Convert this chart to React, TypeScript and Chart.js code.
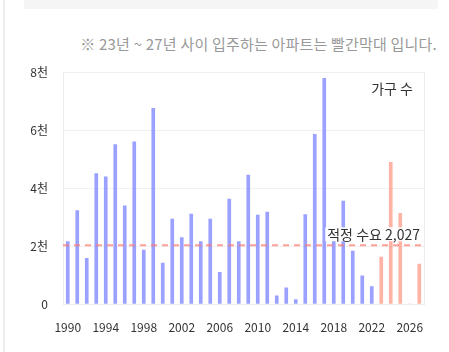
import React, { useEffect, useRef } from "react";
import { Chart, registerables } from "chart.js";

Chart.register(...registerables);

const years: string[] = [
  "1990","1991","1992","1993","1994","1995","1996","1997","1998","1999",
  "2000","2001","2002","2003","2004","2005","2006","2007","2008","2009",
  "2010","2011","2012","2013","2014","2015","2016","2017","2018","2019",
  "2020","2021","2022","2023","2024","2025","2026","2027",
];
const households: number[] = [
  2150, 3220, 1580, 4500, 4390, 5500, 3390, 5600, 1860, 6750,
  1410, 2930, 2290, 3100, 2150, 2930, 1090, 3620, 2150, 4450,
  3070, 3170, 280, 560, 150, 3090, 5860, 7790, 2500, 3550,
  1830, 970, 600, 1620, 4890, 3130, 0, 1380,
];
const futureStart = "2023";
const demand = 2027;
const demandLabel = "적정 수요 2,027";
const seriesLabel = "가구 수";
const caption = "※ 23년 ~ 27년 사이 입주하는 아파트는 빨간막대 입니다.";

const FONT = "'Noto Sans CJK KR', 'Noto Sans', sans-serif";
const BLUE = "rgba(125,135,255,0.78)";
const RED = "rgba(255,150,130,0.72)";

const overlayPlugin = {
  id: "overlay",
  afterDatasetsDraw(chart: any) {
    const { ctx, chartArea, scales } = chart;
    const y = scales.y.getPixelForValue(demand);
    ctx.save();
    ctx.strokeStyle = "#ececec";
    ctx.lineWidth = 1;
    ctx.beginPath();
    ctx.moveTo(chartArea.right + 0.5, chartArea.top);
    ctx.lineTo(chartArea.right + 0.5, chartArea.bottom);
    ctx.stroke();
    ctx.strokeStyle = "rgba(255,120,110,0.7)";
    ctx.lineWidth = 2;
    ctx.setLineDash([6, 5]);
    ctx.beginPath();
    ctx.moveTo(chartArea.left, y);
    ctx.lineTo(chartArea.right, y);
    ctx.stroke();
    ctx.setLineDash([]);
    ctx.font = `14px ${FONT}`;
    const w = ctx.measureText(demandLabel).width;
    const xr = chartArea.right - 4;
    ctx.fillStyle = "rgba(255,255,255,0.95)";
    ctx.fillRect(xr - w - 2, y - 18, w + 4, 14);
    ctx.fillStyle = "#333";
    ctx.textAlign = "right";
    ctx.textBaseline = "middle";
    ctx.fillText(demandLabel, xr, y - 11);
    ctx.fillText(seriesLabel, chartArea.right - 11, chartArea.top + 16);
    ctx.restore();
  },
};

export default function App() {
  const ref = useRef<HTMLCanvasElement | null>(null);
  useEffect(() => {
    if (!ref.current) return;
    const fi = years.indexOf(futureStart);
    const chart = new Chart(ref.current, {
      type: "bar",
      data: {
        labels: years,
        datasets: [
          {
            label: seriesLabel,
            data: households,
            backgroundColor: years.map((_, i) => (i >= fi ? RED : BLUE)),
            barThickness: 3,
          },
        ],
      },
      plugins: [overlayPlugin],
      options: {
        animation: false,
        responsive: false,
        maintainAspectRatio: false,
        layout: { padding: { top: 3, right: 25, left: 0, bottom: 0 } },
        plugins: { legend: { display: false }, tooltip: { enabled: false } },
        scales: {
          x: {
            offset: true,
            grid: { display: false },
            border: { color: "#ececec" },
            ticks: {
              autoSkip: false,
              maxRotation: 0,
              padding: 8,
              color: "#333",
              font: { family: FONT, size: 12 },
              callback: (_v: any, i: number) =>
                (Number(years[i]) - 1990) % 4 === 0 ? years[i] : "",
            },
            afterFit: (s: any) => {
              s.height = 48;
            },
          },
          y: {
            min: 0,
            max: 8000,
            grid: { color: "#f0f0f0", drawTicks: false },
            border: { color: "#ececec" },
            ticks: {
              stepSize: 2000,
              padding: 15,
              color: "#333",
              font: { family: FONT, size: 12 },
              callback: (v: any) => (v === 0 ? "0" : v / 1000 + "천"),
            },
            afterFit: (s: any) => {
              s.width = 63;
            },
          },
        },
      },
    });
    return () => chart.destroy();
  }, []);

  return (
    <div style={{ position: "absolute", left: 0, top: 0, width: 449, height: 352, background: "#fff", overflow: "hidden" }}>
      <div style={{ position: "absolute", left: 3, top: 0, width: 2, height: 352, background: "#eeeeee" }} />
      <div style={{ position: "absolute", left: 24, top: 0, width: 414, height: 9, background: "#f5f5f5" }} />
      <div
        style={{
          position: "absolute",
          right: 12,
          top: 34,
          fontFamily: FONT,
          fontSize: 15,
          letterSpacing: "0.2px",
          color: "#999",
          whiteSpace: "nowrap",
          lineHeight: "20px",
        }}
      >
        {caption}
      </div>
      <canvas ref={ref} width={449} height={302} style={{ position: "absolute", left: 0, top: 50, width: 449, height: 302 }} />
    </div>
  );
}
